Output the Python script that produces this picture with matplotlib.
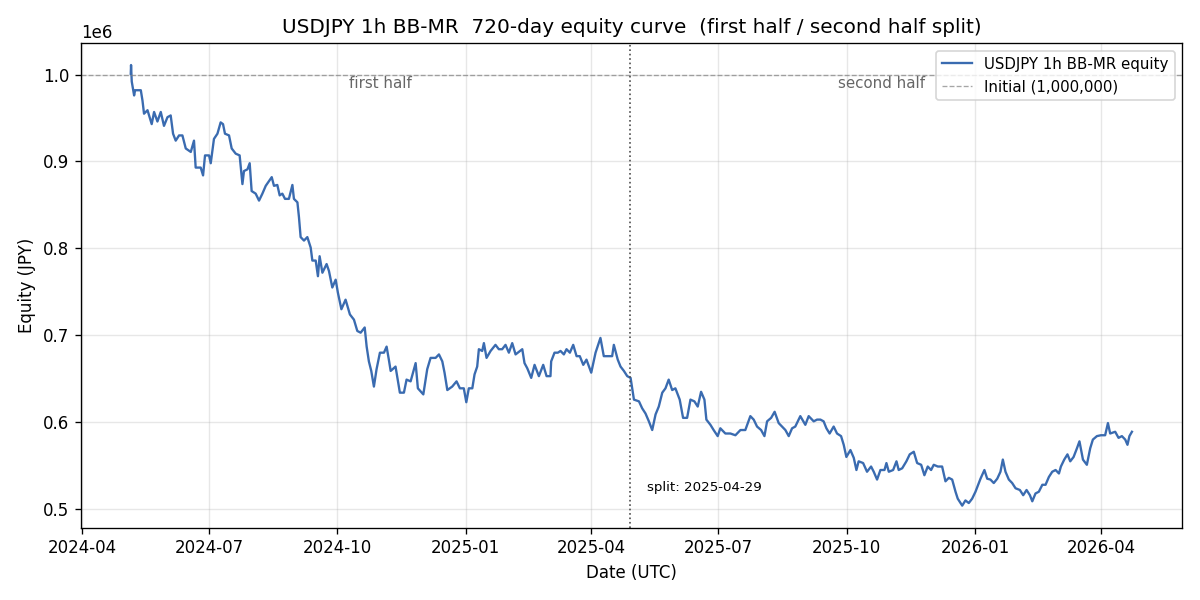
import numpy as np
import pandas as pd
import matplotlib
matplotlib.use("Agg")
import matplotlib.pyplot as plt

# equity curve: day offset from start, equity in thousand JPY
start_date = "2024-05-06"
split_date = "2025-04-29"
initial = 1_000_000

day_offset = [
    0, 0.2, 0.7, 2.4, 3.1, 7.2, 8.4, 9.5, 12.0, 15.0, 16.7, 19.1, 21.5, 23.8, 26.3, 28.6,
    30.3, 32.2, 34.6, 37.0, 39.4, 43.0, 45.3, 46.5, 50.1, 51.8, 53.2, 56.1, 57.3, 59.6,
    62.1, 64.4, 66.1, 67.5, 70.4, 72.3, 75.2, 78.0, 80.0, 81.1, 83.6, 85.2, 86.6, 89.5,
    91.9, 94.3, 96.7, 101.0, 102.6, 105.0, 106.7, 108.6, 110.5, 113.3, 115.8, 116.9,
    119.4, 120.5, 121.7, 124.1, 126.5, 128.9, 130.1, 132.5, 134.1, 135.3, 137.3, 140.3,
    142.0, 144.4, 146.8, 148.4, 150.9, 153.9, 157.0, 159.9, 162.3, 164.7, 167.6, 169.0,
    170.6, 172.3, 174.2, 176.1, 178.5, 181.4, 183.3, 184.9, 186.2, 189.7, 192.8, 195.7,
    197.6, 200.5, 204.1, 205.7, 209.6, 212.4, 214.8, 218.4, 220.8, 223.2, 224.8, 226.8,
    230.3, 233.4, 235.8, 238.6, 240.4, 242.2, 244.7, 246.3, 248.2, 249.4, 251.8, 253.0,
    254.9, 257.8, 261.3, 263.7, 266.1, 268.5, 270.9, 273.3, 275.7, 280.5, 282.1, 284.1,
    286.9, 289.3, 292.4, 295.5, 297.9, 300.7, 301.2, 303.6, 306.0, 307.9, 310.3, 312.2,
    314.6, 317.0, 319.4, 321.7, 324.2, 326.5, 329.9, 333.0, 336.5, 338.9, 341.3, 344.9,
    346.1, 348.9, 350.9, 353.3, 355.7, 358.1, 360.5, 364.1, 366.4, 368.8, 371.2, 373.6,
    376.0, 378.3, 380.8, 383.1, 385.4, 387.9, 390.2, 393.3, 395.7, 398.6, 401.0, 403.8,
    406.2, 408.6, 411.0, 412.4, 415.3, 417.6, 420.5, 422.4, 426.0, 429.6, 433.2, 436.8,
    440.3, 443.9, 446.3, 448.7, 451.6, 454.0, 455.9, 458.8, 461.3, 464.2, 466.6, 469.0,
    471.4, 473.8, 476.1, 479.7, 483.3, 485.7, 489.3, 491.7, 494.1, 496.4, 498.4, 500.7,
    503.6, 506.0, 508.9, 510.8, 512.7, 515.6, 518.0, 519.9, 521.5, 524.7, 527.5, 530.4,
    532.3, 534.7, 537.1, 540.0, 541.4, 543.1, 546.2, 548.6, 550.2, 552.7, 555.7, 558.1,
    561.0, 563.4, 566.3, 568.6, 571.0, 573.4, 575.3, 578.2, 581.3, 583.7, 586.1, 588.5,
    590.9, 592.5, 595.7, 598.0, 600.4, 602.8, 605.2, 608.8, 611.6, 613.6, 615.9, 618.3,
    620.8, 623.1, 624.8, 626.7, 629.1, 631.5, 633.9, 637.0, 639.4, 641.8, 644.2, 645.9,
    648.2, 650.6, 653.1, 655.4, 657.8, 660.2, 662.6, 665.0, 666.4, 668.8, 671.1, 673.1,
    675.5, 677.9, 679.7, 682.2, 685.0, 687.4, 689.3, 692.2, 695.1, 698.1, 700.1, 701.7,
    705.3, 707.7, 710.1, 712.5, 714.1, 715.5, 717.3,
]
equity_k = [
    1001, 1011, 992, 976, 982, 982, 970, 955, 959, 943, 957, 946, 957, 941, 951, 953,
    932, 924, 930, 930, 915, 911, 924, 893, 893, 884, 907, 907, 898, 926,
    932, 945, 943, 932, 930, 915, 909, 907, 874, 889, 891, 898, 866, 863,
    855, 863, 872, 882, 872, 873, 861, 863, 857, 857, 873, 857,
    853, 836, 813, 809, 813, 801, 786, 786, 768, 791, 772, 782,
    774, 755, 764, 749, 730, 741, 724, 718, 705, 703, 709, 687,
    670, 659, 641, 661, 680, 680, 687, 672, 659, 664, 634, 634,
    649, 647, 668, 639, 632, 661, 674, 674, 678, 670, 657, 637,
    641, 647, 639, 639, 623, 639, 639, 655, 664, 684, 682, 691,
    674, 682, 689, 684, 684, 689, 680, 691, 678, 684, 668, 662,
    651, 666, 653, 666, 653, 653, 670, 680, 680, 682, 678, 684,
    680, 689, 676, 676, 666, 672, 657, 680, 697, 676, 676, 676,
    689, 672, 664, 659, 653, 651, 626, 624, 616, 610, 601, 591,
    609, 618, 634, 639, 649, 637, 639, 626, 605, 605, 626, 624,
    618, 635, 626, 603, 597, 591, 584, 593, 587, 587, 585, 591,
    591, 607, 603, 595, 591, 584, 601, 605, 612, 599, 595, 591,
    584, 593, 595, 607, 597, 607, 601, 603, 603, 601, 593, 587,
    595, 587, 584, 574, 560, 568, 559, 545, 555, 553, 543, 549,
    543, 534, 545, 545, 553, 543, 545, 555, 545, 547, 555, 563,
    566, 553, 551, 539, 549, 545, 551, 549, 549, 532, 536, 534,
    520, 512, 504, 510, 507, 512, 520, 535, 545, 535, 534, 530,
    535, 543, 557, 543, 534, 530, 524, 522, 516, 522, 516, 509,
    518, 520, 528, 528, 537, 543, 545, 541, 549, 557, 563, 555,
    560, 570, 578, 557, 551, 570, 580, 584, 585, 585, 599, 587,
    589, 582, 584, 580, 574, 584, 589,
]

dates = pd.Timestamp(start_date) + pd.to_timedelta(day_offset, unit="D")
equity = np.array(equity_k) * 1000
split = pd.Timestamp(split_date)

fig, ax = plt.subplots(figsize=(10, 5), dpi=120)
ax.plot(dates, equity, color="#3a6bb0", lw=1.4, label="USDJPY 1h BB-MR equity")
ax.axhline(initial, color="gray", ls="--", lw=0.8, alpha=0.7, label="Initial (1,000,000)")
ax.axvline(split, color="0.3", ls=":", lw=1.0)

first_mid = dates[0] + (split - dates[0]) / 2
second_mid = split + (dates[-1] - split) / 2
ax.text(first_mid, 0.99e6, "first half", ha="center", va="center", color="0.4", fontsize=9)
ax.text(second_mid, 0.99e6, "second half", ha="center", va="center", color="0.4", fontsize=9)
ax.text(split + pd.Timedelta(days=12), 0.525e6, "split: 2025-04-29", fontsize=8, va="center")

ax.set_title("USDJPY 1h BB-MR  720-day equity curve  (first half / second half split)")
ax.set_xlabel("Date (UTC)")
ax.set_ylabel("Equity (JPY)")
ax.grid(alpha=0.3)
ax.legend(loc="upper right", fontsize=9)

fig.tight_layout()
fig.savefig("out.png")
